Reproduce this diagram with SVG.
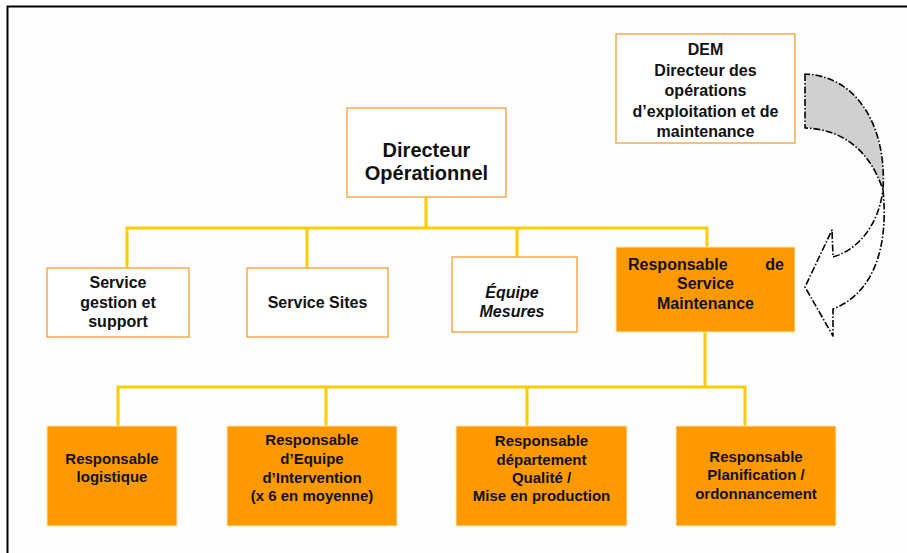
<svg xmlns="http://www.w3.org/2000/svg" width="907" height="553" viewBox="0 0 907 553">
<style>
.bg{fill:#fefefe}
.frame{stroke:#000;stroke-width:2;fill:none}
.wbox{fill:#fff;stroke:#f9a94b;stroke-width:1.5}
.obox{fill:#ff9900;stroke:#ffe6c2;stroke-width:1}
.conn{stroke:#ffcc00;stroke-width:3;fill:none}
text{font-family:"Liberation Sans",Arial,sans-serif;font-weight:bold;fill:#111;text-anchor:middle}
.f16{font-size:16px}
.f15{font-size:15px}
.f20{font-size:20px}
.it{font-style:italic}
.arr{stroke:#000;stroke-width:1.6;stroke-dasharray:7 2 1.5 2;stroke-linejoin:round}
</style>
<rect class="bg" x="0" y="0" width="907" height="553"/>
<path class="frame" d="M7.5,553 V6.5 H907"/>

<g id="connectors">
<path class="conn" d="M426,197 V228 M127,268 V228 H707 V247 M307,268 V228 M517,257 V228"/>
<path class="conn" d="M705,332 V387 M118,426 V387 H745 V426 M326,426 V387 M527,426 V387"/>
</g>

<g id="dem">
<rect class="wbox" x="616" y="34" width="179" height="109"/>
<text class="f16" x="705.5" y="55">DEM</text>
<text class="f16" x="705.5" y="75.5">Directeur des</text>
<text class="f16" x="705.5" y="96">opérations</text>
<text class="f16" x="705.5" y="116.5">d’exploitation et de</text>
<text class="f16" x="705.5" y="137">maintenance</text>
</g>

<g id="curved-arrow">
<path class="arr" fill="#d0d0d0" d="M805,74 L805,128 C837,129 868,145 883,190 C887,128 858,76 805,74 Z"/>
<path class="arr" fill="#fff" d="M883,190 C889,250 872,294 833,309 L833,336 L805,287 L832,230 L833,257 C857,250 878,227 883,190 Z"/>
</g>

<g id="directeur-operationnel">
<rect class="wbox" x="347" y="108" width="159" height="89"/>
<text class="f20" x="426.5" y="157">Directeur</text>
<text class="f20" x="426.5" y="180">Opérationnel</text>
</g>

<g id="service-gestion">
<rect class="wbox" x="47" y="268" width="142" height="69"/>
<text class="f16" x="118" y="288">Service</text>
<text class="f16" x="118" y="308">gestion et</text>
<text class="f16" x="118" y="327">support</text>
</g>

<g id="service-sites">
<rect class="wbox" x="247" y="268" width="141" height="69"/>
<text class="f16" x="317.5" y="308">Service Sites</text>
</g>

<g id="equipe-mesures">
<rect class="wbox" x="452" y="257" width="125" height="75"/>
<text class="f16 it" x="512" y="298">Équipe</text>
<text class="f16 it" x="512" y="317">Mesures</text>
</g>

<g id="resp-maintenance">
<rect class="obox" x="616" y="247" width="179" height="85"/>
<text class="f16" x="628" y="270" style="text-anchor:start">Responsable</text>
<text class="f16" x="784" y="270" style="text-anchor:end">de</text>
<text class="f16" x="705.5" y="289">Service</text>
<text class="f16" x="705.5" y="309">Maintenance</text>
</g>

<g id="resp-logistique">
<rect class="obox" x="47" y="426" width="130" height="100"/>
<text class="f15" x="112" y="464">Responsable</text>
<text class="f15" x="112" y="482">logistique</text>
</g>

<g id="resp-equipe">
<rect class="obox" x="227" y="426" width="170" height="100"/>
<text class="f15" x="312" y="445">Responsable</text>
<text class="f15" x="312" y="464">d’Equipe</text>
<text class="f15" x="312" y="483">d’Intervention</text>
<text class="f15" x="312" y="501">(x 6 en moyenne)</text>
</g>

<g id="resp-qualite">
<rect class="obox" x="456" y="426" width="171" height="100"/>
<text class="f15" x="541.5" y="446">Responsable</text>
<text class="f15" x="541.5" y="465">département</text>
<text class="f15" x="541.5" y="483">Qualité /</text>
<text class="f15" x="541.5" y="501">Mise en production</text>
</g>

<g id="resp-planification">
<rect class="obox" x="676" y="426" width="160" height="100"/>
<text class="f15" x="756" y="462">Responsable</text>
<text class="f15" x="756" y="480">Planification /</text>
<text class="f15" x="756" y="499">ordonnancement</text>
</g>
</svg>
